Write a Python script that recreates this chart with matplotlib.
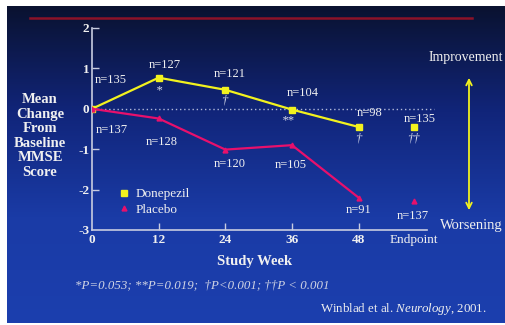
import numpy as np
import matplotlib
matplotlib.use("Agg")
import matplotlib.pyplot as plt
from matplotlib.lines import Line2D
from matplotlib.colors import LinearSegmentedColormap

plt.rcParams["font.family"] = ["Liberation Serif", "DejaVu Serif"]
plt.rcParams["mathtext.fontset"] = "custom"
plt.rcParams["mathtext.rm"] = "Liberation Serif"
plt.rcParams["mathtext.it"] = "Liberation Serif:italic"
plt.rcParams["axes.unicode_minus"] = False

# data
semanas = [0, 12, 24, 36, 48]
semana_endpoint = 58
donepezil = [0.0, 0.77, 0.47, -0.02, -0.45]
donepezil_end = -0.45
placebo = [0.0, -0.24, -1.01, -0.9, -2.2]
placebo_end = -2.27
n_donepezil = ["n=135", "n=127", "n=121", "n=104", "n=98"]
n_donepezil_end = "n=135"
n_placebo = ["n=137", "n=128", "n=120", "n=105", "n=91"]
n_placebo_end = "n=137"
signif = ["", "*", "\u2020", "**", "\u2020"]
signif_end = "\u2020\u2020"
xtick_labels = ["0", "12", "24", "36", "48", "Endpoint"]

amarelo = "#f2f21e"
rosa = "#e8106c"
branco = "#f0f0f0"

fig = plt.figure(figsize=(5.05, 3.25), dpi=100)
fig.patch.set_facecolor("white")

# fundo com gradiente
bg = fig.add_axes([7 / 505, 2 / 325, 498 / 505, 317 / 325])
cmap = LinearSegmentedColormap.from_list("fundo", ["#0a1230", "#11257a", "#1a3ba6", "#1c3fae"])
grad = np.linspace(0, 1, 256).reshape(-1, 1)
bg.imshow(grad, aspect="auto", cmap=cmap, extent=[0, 1, 0, 1], origin="upper")
bg.set_axis_off()

# linha vermelha no topo
fig.add_artist(Line2D([30 / 505, 472 / 505], [1 - 18 / 325, 1 - 18 / 325],
                      color="#8c1228", lw=1.8))

ax = fig.add_axes([92 / 505, 1 - 230 / 325, 335 / 505, 202 / 325])
ax.patch.set_alpha(0)
ax.set_xlim(0, 60.3)
ax.set_ylim(-3, 2)

for s in ["top", "right"]:
    ax.spines[s].set_visible(False)
for s in ["left", "bottom"]:
    ax.spines[s].set_color("#c8cce0")
    ax.spines[s].set_linewidth(1.2)

ax.set_xticks(semanas + [semana_endpoint])
ax.set_xticklabels(xtick_labels)
ax.set_yticks([-3, -2, -1, 0, 1, 2])
ax.tick_params(axis="both", direction="in", colors="#c8cce0", length=5, width=1)
ax.tick_params(axis="both", labelcolor=branco, labelsize=9.5)
for lab in ax.get_yticklabels() + ax.get_xticklabels()[:-1]:
    lab.set_fontweight("bold")
ax.xaxis.get_major_ticks()[0].tick1line.set_visible(False)
ax.xaxis.get_major_ticks()[-1].tick1line.set_visible(False)
ax.yaxis.get_major_ticks()[0].tick1line.set_visible(False)
ax.tick_params(axis="x", pad=3)
ax.tick_params(axis="y", pad=2)

# linha pontilhada em zero
ax.plot([0, 61.5], [0, 0], ls=(0, (1, 2)), color="#b0b8d8", lw=1, clip_on=False)

ax.plot(semanas, donepezil, color=amarelo, lw=1.6, marker="s", ms=4.5, zorder=3)
ax.plot([semana_endpoint], [donepezil_end], color=amarelo, marker="s", ms=4.5, ls="none")
ax.plot(semanas, placebo, color=rosa, lw=1.6, marker="^", ms=3.5, zorder=3)
ax.plot([semana_endpoint], [placebo_end], color=rosa, marker="^", ms=3.5, ls="none")

# rótulos n=
off_d = [(19, 29), (6, 13), (4, 16), (11, 17), (11, 14)]
off_p = [(20, -21), (3, -24), (4, -14), (-1, -20), (0, -12)]
for x, y, t, o in zip(semanas, donepezil, n_donepezil, off_d):
    ax.annotate(t, (x, y), xytext=o, textcoords="offset pixels", ha="center", va="center",
                color=branco, fontsize=9)
ax.annotate(n_donepezil_end, (semana_endpoint, donepezil_end), xytext=(5, 8),
            textcoords="offset pixels", ha="center", va="center", color=branco, fontsize=9)
for x, y, t, o in zip(semanas, placebo, n_placebo, off_p):
    ax.annotate(t, (x, y), xytext=o, textcoords="offset pixels", ha="center", va="center",
                color=branco, fontsize=9)
ax.annotate(n_placebo_end, (semana_endpoint, placebo_end), xytext=(-1, -15),
            textcoords="offset pixels", ha="center", va="center", color=branco, fontsize=9)

# significância
off_s = [(0, 0), (0, -13), (-1, -11), (-4, -11), (0, -12)]
for x, y, t, o in zip(semanas, donepezil, signif, off_s):
    if t:
        ax.annotate(t, (x, y), xytext=o, textcoords="offset pixels", ha="center", va="center",
                    color="#d8dcec", fontsize=9, fontstyle="italic")
ax.annotate(signif_end, (semana_endpoint, donepezil_end), xytext=(-1, -12),
            textcoords="offset pixels", ha="center", va="center", color="#d8dcec",
            fontsize=9, fontstyle="italic")

# legenda
handles = [Line2D([], [], color=amarelo, marker="s", ls="none", ms=4.5),
           Line2D([], [], color=rosa, marker="^", ls="none", ms=3.5)]
leg = ax.legend(handles, ["Donepezil", "Placebo"], loc="upper left",
                bbox_to_anchor=(0.06, 0.24), frameon=False, fontsize=9.5,
                handlelength=0.8, handletextpad=0.5, labelspacing=0.25, borderpad=0)
for t in leg.get_texts():
    t.set_color(branco)

# textos
fig.text(40 / 505, 1 - 136 / 325, "Mean\nChange\nFrom\nBaseline\nMMSE\nScore",
         ha="center", va="center", ma="center", color=branco, fontsize=10.5,
         fontweight="bold", linespacing=1.16)
fig.text(255 / 505, 1 - 262 / 325, "Study Week", ha="center", va="center",
         color=branco, fontsize=10.5, fontweight="bold")
fig.text(202 / 505, 1 - 285 / 325,
         "*P=0.053; **P=0.019;  \u2020P<0.001; \u2020\u2020P < 0.001",
         ha="center", va="center", color="#d0d4e4", fontsize=9.3, fontstyle="italic")
fig.text(487 / 505, 1 - 309 / 325, r"Winblad et al. $\mathit{Neurology}$, 2001.",
         ha="right", va="center", color=branco, fontsize=9.3)

fig.text(466 / 505, 1 - 58 / 325, "Improvement", ha="center", va="center",
         color=branco, fontsize=10)
fig.text(471 / 505, 1 - 225 / 325, "Worsening", ha="center", va="center",
         color=branco, fontsize=10.5)
ax.annotate("", xy=(469 / 505, 1 - 75 / 325), xytext=(469 / 505, 1 - 213 / 325),
            xycoords="figure fraction", textcoords="figure fraction",
            arrowprops=dict(arrowstyle="<->,head_length=0.4,head_width=0.2",
                            color=amarelo, lw=1.3))

fig.savefig("out.png", dpi=100)
